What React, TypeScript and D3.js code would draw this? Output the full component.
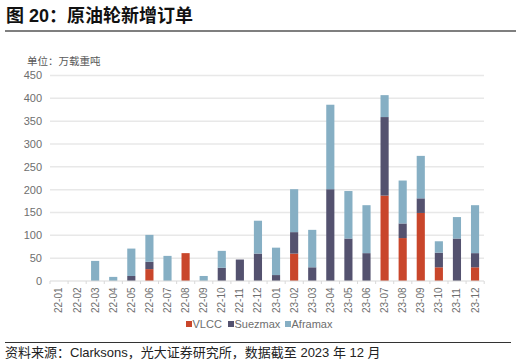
import React from 'react';
import * as d3 from 'd3';

// monthly new tanker orders, unit: 10k DWT
const months = [
  '22-01', '22-02', '22-03', '22-04', '22-05', '22-06', '22-07', '22-08', '22-09', '22-10', '22-11', '22-12',
  '23-01', '23-02', '23-03', '23-04', '23-05', '23-06', '23-07', '23-08', '23-09', '23-10', '23-11', '23-12',
];
const vlcc = [0, 0, 0, 0, 0, 26, 0, 61, 0, 0, 0, 0, 0, 60, 0, 0, 0, 0, 187, 94, 149, 30, 0, 30];
const suezmax = [0, 0, 0, 0, 11, 16, 0, 0, 0, 29, 47, 60, 13, 47, 30, 201, 93, 61, 172, 32, 32, 32, 93, 31];
const aframax = [0, 0, 44, 9, 60, 59, 55, 0, 11, 37, 0, 72, 60, 94, 82, 185, 104, 105, 48, 94, 93, 25, 47, 105];
const yTicks = [0, 50, 100, 150, 200, 250, 300, 350, 400, 450];

const seriesNames = ['VLCC', 'Suezmax', 'Aframax'];
const colors = ['#c9462b', '#54526f', '#86afc4'];

const FONT = '"Liberation Sans", Arial, "Noto Sans CJK SC", sans-serif';

const App = () => {
  const width = 516;
  const height = 363;
  const plot = { left: 50, right: 484, top: 75.5, bottom: 281 };

  const rows = months.map((m, i) => ({ month: m, VLCC: vlcc[i], Suezmax: suezmax[i], Aframax: aframax[i] }));
  const stacked = d3.stack<any>().keys(seriesNames)(rows);

  const x = d3.scaleBand().domain(months).range([plot.left, plot.right]).paddingInner(0.55).paddingOuter(0.27);
  const y = d3.scaleLinear().domain([0, 450]).range([plot.bottom, plot.top]);
  const step = x.step();
  const x0 = plot.left;

  return (
    <svg width={width} height={height} style={{ position: 'fixed', left: 0, top: 0, background: '#fff' }} fontFamily={FONT}>
      {/* title */}
      <text x={6} y={22} fontSize={18} fontWeight="bold" fill="#111">图 20：原油轮新增订单</text>
      <line x1={5} x2={516} y1={31} y2={31} stroke="#555" strokeWidth={1.5} />

      <text x={27} y={65} fontSize={10.5} fill="#595959">单位：万载重吨</text>

      {/* grid + y labels */}
      {yTicks.map(t => (
        <g key={t}>
          {t > 0 && <line x1={plot.left} x2={plot.right} y1={y(t)} y2={y(t)} stroke="#e8e8e8" strokeWidth={1.5} />}
          <text x={42} y={y(t)} dy="0.35em" textAnchor="end" fontSize={11} fill="#6e6e6e">{t}</text>
        </g>
      ))}

      {/* bars */}
      {stacked.map((s, si) => (
        <g key={s.key} fill={colors[si]}>
          {s.map((d, i) => (d[1] - d[0] > 0 ? (
            <rect key={i} x={x(months[i])} width={x.bandwidth()} y={y(d[1])} height={y(d[0]) - y(d[1])} />
          ) : null))}
        </g>
      ))}

      {/* x axis */}
      <line x1={plot.left} x2={plot.right} y1={plot.bottom} y2={plot.bottom} stroke="#d9d9d9" strokeWidth={1} />
      {d3.range(months.length + 1).map(i => (
        <line key={i} x1={x0 + i * step} x2={x0 + i * step} y1={plot.bottom} y2={plot.bottom + 3} stroke="#d9d9d9" />
      ))}
      {months.map(m => {
        const cx = x(m)! + x.bandwidth() / 2;
        return (
          <text key={m} transform={`translate(${cx + 3.5},313) rotate(-90)`} fontSize={10} fill="#6e6e6e">{m}</text>
        );
      })}

      {/* legend */}
      {seriesNames.map((n, i) => {
        const lx = [186, 228, 285][i];
        return (
          <g key={n}>
            <rect x={lx} y={321} width={6} height={6} fill={colors[i]} />
            <text x={lx + 6.5} y={328} fontSize={11} fill="#6e6e6e">{n}</text>
          </g>
        );
      })}

      {/* source */}
      <line x1={5} x2={511} y1={342.5} y2={342.5} stroke="#333" strokeWidth={1} />
      <text x={5} y={357} fontSize={13} fill="#222">资料来源：Clarksons，光大证券研究所，数据截至 2023 年 12 月</text>
    </svg>
  );
};

export default App;
